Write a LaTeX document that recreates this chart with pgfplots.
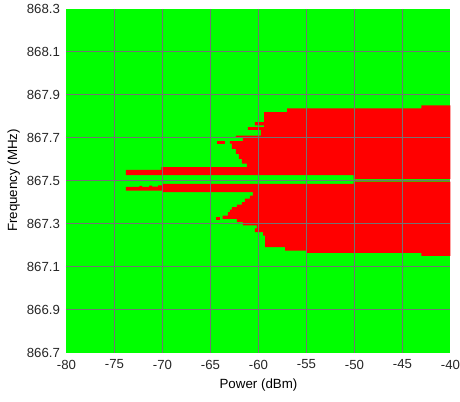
\documentclass[border=0pt]{standalone}
\usepackage{fontspec}
\setmainfont{Liberation Sans}
\usepackage{pgfplots}
\pgfplotsset{compat=1.18}
\definecolor{mg}{RGB}{0,255,0}
\definecolor{mr}{RGB}{255,0,0}
\definecolor{gridc}{RGB}{115,115,115}
\definecolor{txt}{RGB}{38,38,38}
\begin{document}
\begin{tikzpicture}
\useasboundingbox (-49.875pt,-36.375pt) rectangle (295.125pt,264.375pt);
\begin{axis}[
  at={(0,0)}, anchor=south west,
  scale only axis, width=288pt, height=258pt,
  xmin=-80, xmax=-40, ymin=866.7, ymax=868.3,
  axis background/.style={fill=mg},
  axis on top,
  axis line style={draw=none},
  major tick length=0pt,
  xtick={-75,-70,-65,-60,-55,-50,-45},
  xticklabels={-75,-70,-65,-60,-55,-50,-45},
  extra x ticks={-80,-40}, extra x tick labels={-80,-40},
  extra x tick style={grid=none},
  ytick={866.9,867.1,867.3,867.5,867.7,867.9,868.1},
  yticklabels={866.9,867.1,867.3,867.5,867.7,867.9,868.1},
  extra y ticks={866.7,868.3}, extra y tick labels={866.7,868.3},
  extra y tick style={grid=none},
  grid=major,
  major grid style={draw=gridc, line width=0.75pt},
  tick label style={font=\fontsize{9.9}{12}\selectfont, text=txt},
  xticklabel style={yshift=-2pt},
  yticklabel style={xshift=-1.4pt},
  label style={font=\fontsize{11.4}{13}\selectfont, text=txt},
  xlabel={Power (dBm)}, ylabel={Frequency (MHz)},
  every axis x label/.style={at={(axis description cs:0.5,-0.0945)}, anchor=center},
  every axis y label/.style={at={(axis description cs:-0.1375,0.5)}, anchor=center, rotate=90},
]
% upper red region
\addplot[fill=mr, draw=none] coordinates {
(-40,867.849) (-43.04,867.849) (-43.04,867.835) (-57.01,867.835) (-57.01,867.818)
(-59.42,867.818) (-59.42,867.771) (-60.37,867.771) (-60.37,867.756) (-59.42,867.756)
(-59.42,867.748) (-61.10,867.748) (-61.10,867.736) (-59.74,867.736) (-59.74,867.709)
(-62.36,867.709) (-62.36,867.699) (-61.63,867.699) (-61.63,867.683) (-62.99,867.683)
(-62.99,867.671) (-62.78,867.671) (-62.78,867.647) (-62.36,867.647) (-62.36,867.624)
(-62.05,867.624) (-62.05,867.601) (-61.73,867.601) (-61.73,867.578) (-61.21,867.578)
(-61.21,867.562) (-70.13,867.562) (-70.13,867.549) (-73.81,867.549) (-73.81,867.525)
(-50.08,867.525) (-50.08,867.507) (-40,867.507)
} -- cycle;
\addplot[fill=mr, draw=none] coordinates {
(-64.36,867.683) (-63.52,867.683) (-63.52,867.671) (-64.36,867.671)
} -- cycle;
% lower red region
\addplot[fill=mr, draw=none] coordinates {
(-40,867.495) (-50.08,867.495) (-50.08,867.484) (-70.03,867.484) (-70.03,867.477)
(-70.45,867.477) (-70.45,867.471) (-71.08,867.471) (-71.08,867.476) (-71.40,867.476)
(-71.40,867.470) (-72.13,867.470) (-72.13,867.475) (-72.40,867.475) (-72.40,867.470)
(-73.81,867.470) (-73.81,867.453) (-70.03,867.453) (-70.03,867.446)
(-60.58,867.446) (-60.58,867.430) (-60.89,867.430) (-60.89,867.416) (-61.42,867.416)
(-61.42,867.399) (-61.73,867.399) (-61.73,867.388) (-62.26,867.388) (-62.26,867.376)
(-62.78,867.376) (-62.78,867.365) (-62.99,867.365) (-62.99,867.353) (-63.20,867.353)
(-63.20,867.337) (-63.73,867.337) (-63.73,867.322) (-62.26,867.322) (-62.26,867.306)
(-61.63,867.306) (-61.63,867.291) (-60.16,867.291) (-60.16,867.277) (-60.37,867.277)
(-60.37,867.260) (-59.53,867.260) (-59.53,867.244) (-59.32,867.244) (-59.32,867.190)
(-57.22,867.190) (-57.22,867.174) (-54.94,867.174) (-54.94,867.163) (-43.04,867.163)
(-43.04,867.149) (-40,867.149)
} -- cycle;
\addplot[fill=mr, draw=none] coordinates {
(-64.39,867.329) (-64.04,867.329) (-64.04,867.314) (-64.39,867.314)
} -- cycle;
\end{axis}
\end{tikzpicture}
\end{document}
